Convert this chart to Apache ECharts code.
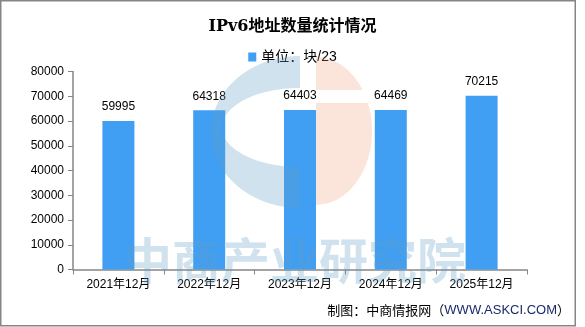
<!DOCTYPE html>
<html>
<head>
<meta charset="utf-8">
<script src="https://cdn.jsdelivr.net/npm/echarts@6/dist/echarts.min.js"></script>
<style>html,body{margin:0;padding:0;background:#fff;}#c{width:585px;height:327px;}</style>
</head>
<body>
<div id="c"></div>
<script>
const categories = ['2021年12月', '2022年12月', '2023年12月', '2024年12月', '2025年12月'];
const values = [59995, 64318, 64403, 64469, 70215];
const seriesName = '单位：块/23';
const titleText = 'IPv6地址数量统计情况';

// watermark logo outline helpers (decoration only)
function arcPts(cx, cy, rx, ry, t0, t1, n) {
  const p = [];
  for (let i = 0; i <= n; i++) {
    const t = (t0 + (t1 - t0) * i / n) * Math.PI / 180;
    p.push([cx + rx * Math.cos(t), cy + ry * Math.sin(t)]);
  }
  return p;
}
function halfPts(cx, cy, rx, ry, y0, y1, n) {
  const p = [[cx, y0]];
  for (let i = 0; i <= n; i++) {
    const y = y0 + (y1 - y0) * i / n;
    const d = Math.max(0, 1 - Math.pow((y - cy) / ry, 2));
    p.push([cx + rx * Math.sqrt(d), y]);
  }
  p.push([cx, y1]);
  return p;
}
const cPts = arcPts(300, 132, 89, 76, 270, 90, 60).concat([[300, 167]]).concat(arcPts(300, 127.5, 78, 39.5, 90, 270, 60));

const FONT = '"Liberation Sans", "Noto Sans CJK SC", sans-serif';
const chart = echarts.init(document.getElementById('c'), null, {renderer: 'canvas'});
chart.setOption({
  animation: false,
  backgroundColor: '#fff',
  title: {
    text: titleText, left: 'center', top: 14,
    textStyle: {fontSize: 16, fontWeight: 'bold', color: '#000', fontFamily: '"DejaVu Serif", "Noto Sans CJK SC", serif'}
  },
  legend: {
    data: [seriesName], top: 45, left: 'center', icon: 'rect',
    itemWidth: 8, itemHeight: 9, itemGap: 6,
    textStyle: {fontSize: 14, color: '#000', fontFamily: FONT}
  },
  grid: {left: 73, right: 58, top: 71.5, bottom: 57.5, containLabel: false},
  xAxis: {
    type: 'category', data: categories,
    axisLine: {lineStyle: {color: '#868686', width: 1.5}},
    axisTick: {show: true, length: 5, lineStyle: {color: '#868686'}},
    axisLabel: {margin: 9, fontSize: 12, color: '#000', fontFamily: FONT}
  },
  yAxis: {
    type: 'value', min: 0, max: 80000, interval: 10000,
    splitLine: {show: false},
    axisLine: {show: true, lineStyle: {color: '#868686', width: 1.5}},
    axisTick: {show: true, length: 5, lineStyle: {color: '#868686'}},
    axisLabel: {margin: 9, fontSize: 12, color: '#000', fontFamily: FONT, formatter: v => String(v)}
  },
  series: [{
    name: seriesName, type: 'bar', data: values, barWidth: 32,
    itemStyle: {color: '#409ef3'},
    label: {show: true, position: 'top', distance: 8, fontSize: 12, color: '#000', fontFamily: FONT}
  }],
  graphic: [
    {type: 'polygon', z: 100, silent: true,
     shape: {points: cPts},
     style: {fill: 'rgba(100,160,200,0.3)'}},
    {type: 'polygon', z: 100, silent: true,
     shape: {points: halfPts(316, 131, 56, 74, 57, 90, 30)},
     style: {fill: 'rgba(240,150,110,0.25)'}},
    {type: 'polygon', z: 100, silent: true,
     shape: {points: halfPts(316, 131, 56, 74, 103, 205, 60)},
     style: {fill: 'rgba(240,150,110,0.25)'}},
    {type: 'text', z: 100, silent: true, left: 123, top: 236,
     style: {text: '中商产业研究院', fontSize: 49, fontWeight: 'bold', fill: 'rgba(100,160,200,0.3)', fontFamily: '"Noto Sans CJK SC", sans-serif'}},
    {type: 'text', z: 100, silent: true, right: 15, top: 304,
     style: {
       text: '{a|制图：中商情报网（}{b|WWW.ASKCI.COM}{a|）}',
       rich: {
         a: {fontSize: 13, fill: '#000', fontFamily: '"Noto Sans CJK SC", sans-serif'},
         b: {fontSize: 13, fill: '#1b2a6b', fontFamily: '"Liberation Sans", sans-serif'}
       }
     }},
    {type: 'rect', z: 100, silent: true,
     shape: {x: 0.75, y: 0.75, width: 574.5, height: 325},
     style: {fill: 'none', stroke: '#858585', lineWidth: 1.5}}
  ]
});
</script>
</body>
</html>
